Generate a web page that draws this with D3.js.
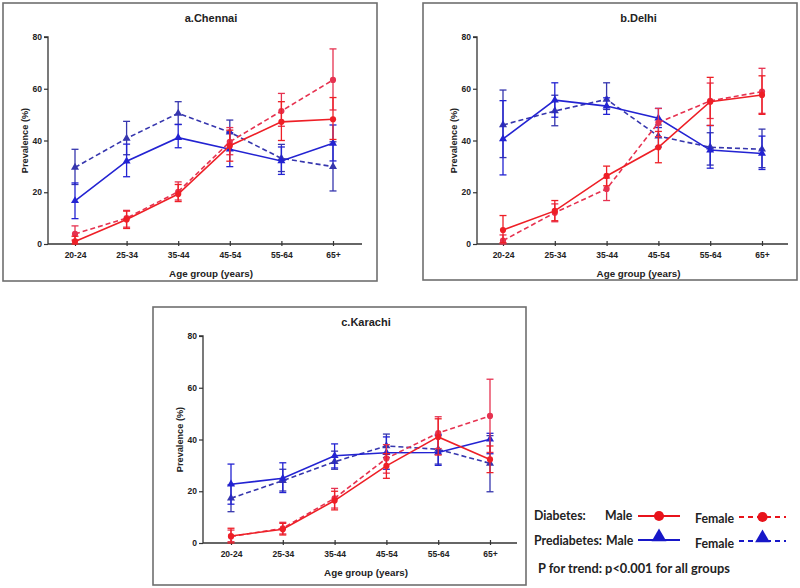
<!DOCTYPE html>
<html><head><meta charset="utf-8">
<script src="https://cdn.jsdelivr.net/npm/d3@7"></script>
<style>body{margin:0;background:#fff}svg{display:block}</style>
</head><body><svg id="c" width="800" height="588"></svg>
<script>
const ageGroups = ["20-24","25-34","35-44","45-54","55-64","65+"];
const yTicks = [0,20,40,60,80];
const cityTitles = ["a.Chennai","b.Delhi","c.Karachi"];

// Chennai
const cheDiabMale   = [1.0, 9.5, 19.3, 38.0, 47.2, 48.2];
const cheDiabMaleLo = [0.0, 6.0, 16.4, 32.0, 40.0, 40.4];
const cheDiabMaleHi = [3.0, 12.7, 23.0, 44.0, 55.0, 56.6];
const cheDiabFem    = [3.9, 10.0, 20.2, 39.5, 51.4, 63.4];
const cheDiabFemLo  = [1.5, 6.5, 17.0, 34.5, 45.5, 51.8];
const cheDiabFemHi  = [7.0, 13.0, 24.0, 45.0, 58.2, 75.4];
const chePreMale    = [16.7, 32.0, 41.1, 36.6, 32.1, 38.9];
const chePreMaleLo  = [9.8, 26.0, 37.2, 29.9, 26.9, 32.1];
const chePreMaleHi  = [23.6, 38.6, 46.2, 43.0, 37.5, 46.0];
const chePreFem     = [29.6, 40.8, 50.5, 43.2, 33.1, 29.9];
const chePreFemLo   = [23.0, 34.5, 46.2, 38.5, 28.0, 20.5];
const chePreFemHi   = [36.6, 47.4, 55.0, 47.9, 38.5, 39.5];

// Delhi
const delDiabMale   = [5.4, 12.8, 26.3, 37.4, 55.0, 57.6];
const delDiabMaleLo = [0.5, 9.0, 22.5, 31.4, 45.8, 50.1];
const delDiabMaleHi = [11.0, 16.8, 30.1, 43.5, 64.4, 65.0];
const delDiabFem    = [1.3, 12.1, 21.3, 46.9, 55.3, 58.9];
const delDiabFemLo  = [0.0, 8.6, 16.8, 41.5, 48.5, 50.5];
const delDiabFemHi  = [3.5, 15.5, 25.5, 52.4, 62.2, 67.9];
const delPreMale    = [40.6, 55.6, 53.3, 48.6, 36.3, 35.0];
const delPreMaleLo  = [26.7, 49.0, 50.1, 45.0, 29.3, 28.8];
const delPreMaleHi  = [55.4, 62.3, 56.5, 52.4, 45.8, 41.7];
const delPreFem     = [46.0, 51.4, 55.9, 41.7, 37.4, 36.6];
const delPreFemLo   = [33.4, 45.7, 52.0, 37.5, 30.5, 29.5];
const delPreFemHi   = [59.5, 57.5, 62.3, 46.0, 43.0, 44.4];

// Karachi
const karDiabMale   = [2.7, 5.3, 16.4, 29.8, 41.0, 32.3];
const karDiabMaleLo = [0.0, 3.1, 12.8, 25.0, 34.0, 27.2];
const karDiabMaleHi = [5.7, 7.6, 20.0, 34.5, 48.0, 37.5];
const karDiabFem    = [2.5, 5.7, 17.3, 32.7, 42.5, 49.1];
const karDiabFemLo  = [0.5, 3.5, 13.5, 27.0, 36.5, 35.0];
const karDiabFemHi  = [5.0, 8.0, 21.1, 38.0, 48.8, 63.3];
const karPreMale    = [22.7, 25.0, 33.7, 34.9, 35.0, 40.1];
const karPreMaleLo  = [15.0, 19.5, 29.0, 28.5, 30.0, 34.5];
const karPreMaleHi  = [30.5, 31.0, 38.3, 41.0, 42.0, 42.4];
const karPreFem     = [17.3, 24.1, 31.4, 37.5, 36.2, 30.8];
const karPreFemLo   = [12.1, 20.1, 28.5, 33.0, 30.5, 19.8];
const karPreFemHi   = [22.5, 28.5, 35.5, 42.1, 41.5, 41.5];

const RED = "#ee1f26", RED_D = "#e63250", BLUE = "#2323d2", BLUE_D = "#3636ae";

const panels = [
  {box:[3,3,374,278], ax:48, x0:75, x1:333, xEnd:362, yTop:37, yBot:244,
   series:[[chePreFem,chePreFemLo,chePreFemHi,"pre",true],[chePreMale,chePreMaleLo,chePreMaleHi,"pre",false],
           [cheDiabFem,cheDiabFemLo,cheDiabFemHi,"diab",true],[cheDiabMale,cheDiabMaleLo,cheDiabMaleHi,"diab",false]]},
  {box:[423,3,374,277], ax:477, x0:503, x1:762, xEnd:788, yTop:37, yBot:244,
   series:[[delPreFem,delPreFemLo,delPreFemHi,"pre",true],[delPreMale,delPreMaleLo,delPreMaleHi,"pre",false],
           [delDiabFem,delDiabFemLo,delDiabFemHi,"diab",true],[delDiabMale,delDiabMaleLo,delDiabMaleHi,"diab",false]]},
  {box:[153,307,373,278], ax:203, x0:231, x1:490, xEnd:517, yTop:336, yBot:543,
   series:[[karPreFem,karPreFemLo,karPreFemHi,"pre",true],[karPreMale,karPreMaleLo,karPreMaleHi,"pre",false],
           [karDiabFem,karDiabFemLo,karDiabFemHi,"diab",true],[karDiabMale,karDiabMaleLo,karDiabMaleHi,"diab",false]]}
];

const svg = d3.select("#c");
const FONT = "'Liberation Sans', Arial, sans-serif";

panels.forEach((p, i) => {
  const g = svg.append("g");
  g.append("rect").attr("x",p.box[0]).attr("y",p.box[1]).attr("width",p.box[2]).attr("height",p.box[3])
    .attr("fill","none").attr("stroke","#6f6f6f").attr("stroke-width",1.6);
  const x = d3.scalePoint().domain(ageGroups).range([p.x0, p.x1]);
  const y = d3.scaleLinear().domain([0,80]).range([p.yBot, p.yTop]);

  const yAx = g.append("g").attr("transform",`translate(${p.ax},0)`)
    .call(d3.axisLeft(y).tickValues(yTicks).tickSize(4).tickPadding(2));
  yAx.select(".domain").attr("stroke","#333").attr("stroke-width",1.3).attr("d",`M-4,${p.yTop}H0V${p.yBot}`);
  yAx.selectAll(".tick line").attr("stroke","#333").attr("stroke-width",1.2);
  yAx.selectAll("text").attr("font-family",FONT).attr("font-weight","bold").attr("font-size",8.5).attr("fill","#222");

  const xAx = g.append("g").attr("transform",`translate(0,${p.yBot})`)
    .call(d3.axisBottom(x).tickSize(3).tickPadding(5));
  xAx.select(".domain").attr("stroke","#333").attr("stroke-width",1.3).attr("d",`M${p.ax},0H${p.xEnd}`);
  xAx.selectAll(".tick line").attr("stroke","#333").attr("stroke-width",1.2).attr("y1",-3).attr("y2",2);
  xAx.selectAll("text").attr("font-family",FONT).attr("font-weight","bold").attr("font-size",8.5).attr("fill","#222");

  const cx = (p.ax + p.xEnd) / 2 + 6;
  g.append("text").attr("x",cx).attr("y",p.box[1]+19).attr("text-anchor","middle")
    .attr("font-family",FONT).attr("font-weight","bold").attr("font-size",11).attr("fill","#222").text(cityTitles[i]);
  g.append("text").attr("x",cx).attr("y",p.yBot+33).attr("text-anchor","middle")
    .attr("font-family",FONT).attr("font-weight","bold").attr("font-size",9.8).attr("fill","#222").text("Age group (years)");
  const ty = (p.yTop + p.yBot)/2;
  g.append("text").attr("transform",`translate(${p.ax-20},${ty}) rotate(-90)`).attr("text-anchor","middle")
    .attr("font-family",FONT).attr("font-weight","bold").attr("font-size",9.2).attr("fill","#222").text("Prevalence (%)");

  p.series.forEach(([vals, lo, hi, kind, fem]) => {
    const col = kind === "diab" ? (fem ? RED_D : RED) : (fem ? BLUE_D : BLUE);
    const line = d3.line().x((d,j) => x(ageGroups[j])).y(d => y(d));
    g.append("path").attr("d", line(vals)).attr("fill","none").attr("stroke",col)
      .attr("stroke-width",1.6).attr("stroke-dasharray", fem ? "5,3" : null);
    vals.forEach((v,j) => {
      const xx = x(ageGroups[j]);
      g.append("line").attr("x1",xx).attr("x2",xx).attr("y1",y(lo[j])).attr("y2",y(hi[j]))
        .attr("stroke",col).attr("stroke-width",1.3);
      [lo[j],hi[j]].forEach(e => g.append("line").attr("x1",xx-3.5).attr("x2",xx+3.5).attr("y1",y(e)).attr("y2",y(e))
        .attr("stroke",col).attr("stroke-width",1.3));
      const sym = kind === "diab" ? d3.symbolCircle : d3.symbolTriangle;
      g.append("path").attr("d", d3.symbol().type(sym).size(kind==="diab"?30:28)())
        .attr("transform",`translate(${xx},${y(v)})`).attr("fill",col);
    });
  });
});

// legend
const LF = "Lato, 'Open Sans', sans-serif";
const lg = svg.append("g").attr("font-family",LF).attr("font-weight","bold").attr("font-size",12.3).attr("fill","#222");
lg.append("text").attr("x",534).attr("y",520).text("Diabetes:");
lg.append("text").attr("x",605).attr("y",520).text("Male");
lg.append("text").attr("x",695).attr("y",523).text("Female");
lg.append("text").attr("x",534).attr("y",545).text("Prediabetes:");
lg.append("text").attr("x",606).attr("y",545).text("Male");
lg.append("text").attr("x",695).attr("y",548).text("Female");
lg.append("text").attr("x",538).attr("y",573).attr("font-size",12.8).text("P for trend: p<0.001 for all groups");

const legItems = [
  {x0:638,x1:680,y:516,col:"#e8131b",dash:null,sym:d3.symbolCircle,size:80,dy:0},
  {x0:739,x1:786,y:517,col:"#e8131b",dash:"5,4",sym:d3.symbolCircle,size:80,dy:0},
  {x0:638,x1:680,y:540,col:"#1717c8",dash:null,sym:d3.symbolTriangle,size:95,dy:-3},
  {x0:739,x1:786,y:541,col:"#1717c8",dash:"5,4",sym:d3.symbolTriangle,size:95,dy:-3}
];
legItems.forEach(it => {
  svg.append("line").attr("x1",it.x0).attr("x2",it.x1).attr("y1",it.y).attr("y2",it.y)
    .attr("stroke",it.col).attr("stroke-width",2.2).attr("stroke-dasharray",it.dash);
  svg.append("path").attr("d",d3.symbol().type(it.sym).size(it.size)())
    .attr("transform",`translate(${(it.x0+it.x1)/2},${it.y+it.dy})`).attr("fill",it.col);
});
</script></body></html>
